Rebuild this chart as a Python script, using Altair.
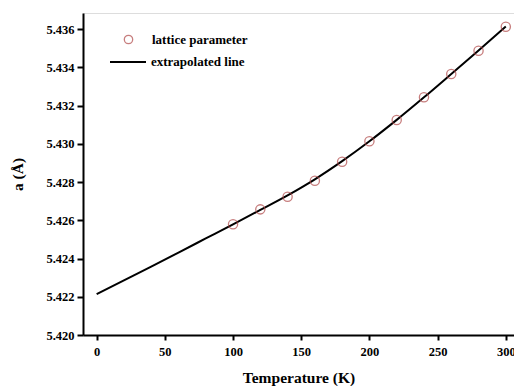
import altair as alt
import pandas as pd

# Measured lattice parameter
temps = [100, 120, 140, 160, 180, 200, 220, 240, 260, 280, 300]
lattice = [5.42579, 5.42657, 5.42723, 5.42807, 5.42906, 5.43013, 5.43124, 5.43243, 5.43365, 5.43487, 5.43612]

# Extrapolated line
line_t = [0, 20, 40, 60, 80, 100, 120, 140, 160, 180, 200, 220, 240, 260, 280, 300]
line_a = [5.42214, 5.42286, 5.42358, 5.42431, 5.42505, 5.42579, 5.42654, 5.42730, 5.42814,
          5.42909, 5.43013, 5.43125, 5.43243, 5.43365, 5.43488, 5.43613]

x_ticks = [0, 25, 50, 75, 100, 125, 150, 175, 200, 225, 250, 275, 300]
y_ticks = [5.420, 5.421, 5.422, 5.423, 5.424, 5.425, 5.426, 5.427, 5.428, 5.429,
           5.430, 5.431, 5.432, 5.433, 5.434, 5.435, 5.436]

pts = pd.DataFrame({"T": temps, "a": lattice, "p": "lattice parameter"})
ln = pd.DataFrame({"T": line_t, "a": line_a, "l": "extrapolated line"})

FONT = "Liberation Serif"
RED = "#b04848"

xs = alt.Scale(domain=[-10, 306], nice=False, zero=False)
ys = alt.Scale(domain=[5.420, 5.43684], nice=False, zero=False)

common = dict(
    grid=False, labelFont=FONT, labelFontSize=12.5, labelFontWeight="bold", labelColor="black",
    titleFont=FONT, titleFontSize=15.5, titleFontWeight="bold", titleColor="black",
    domainColor="black", domainWidth=2, tickColor="black", tickWidth=2,
)

x_axis = alt.Axis(
    values=x_ticks, title="Temperature (K)", labelPadding=5, titlePadding=13, format="d",
    labelExpr="datum.value % 50 === 0 ? datum.label : ''",
    tickSize={"condition": {"test": "datum.value % 50 === 0", "value": 5}, "value": 3},
    **common,
)
y_axis = alt.Axis(
    values=y_ticks, title="a (Å)", labelPadding=3, titlePadding=20, format=".3f",
    labelExpr="round(datum.value * 1000) % 2 === 0 ? datum.label : ''",
    tickSize={"condition": {"test": "round(datum.value * 1000) % 2 === 0", "value": 6}, "value": 3.5},
    **common,
)

line = alt.Chart(ln).mark_line(color="black", strokeWidth=2, interpolate="monotone").encode(
    x=alt.X("T:Q", scale=xs, axis=x_axis),
    y=alt.Y("a:Q", scale=ys, axis=y_axis),
    color=alt.Color("l:N", scale=alt.Scale(range=["black"]),
                    legend=alt.Legend(title=None, orient="none", legendX=26, legendY=30,
                                      symbolSize=1296, symbolStrokeWidth=2,
                                      labelFont=FONT, labelFontSize=13, labelFontWeight="bold",
                                      labelColor="black", labelOffset=4)),
)

points = alt.Chart(pts).mark_point(shape="circle", filled=False, color=RED, size=85,
                                   strokeWidth=1.3).encode(
    x=alt.X("T:Q", scale=xs),
    y=alt.Y("a:Q", scale=ys),
    shape=alt.Shape("p:N", scale=alt.Scale(range=["circle"]),
                    legend=alt.Legend(title=None, orient="none", legendX=39, legendY=20,
                                      symbolSize=70, symbolStrokeColor=RED,
                                      symbolFillColor="transparent", symbolStrokeWidth=1.3,
                                      labelFont=FONT, labelFontSize=13, labelFontWeight="bold",
                                      labelColor="black", labelOffset=17)),
)

chart = alt.layer(line, points).resolve_legend(
    color="independent", shape="independent"
).properties(
    width=431, height=322,
    autosize=alt.AutoSizeParams(type="none"),
    padding={"left": 83, "top": 13, "right": 0, "bottom": 51},
).configure_view(
    stroke="black", strokeWidth=2
).configure(background="white")

chart.save("out.html", embed_options={"renderer": "svg", "actions": False})
